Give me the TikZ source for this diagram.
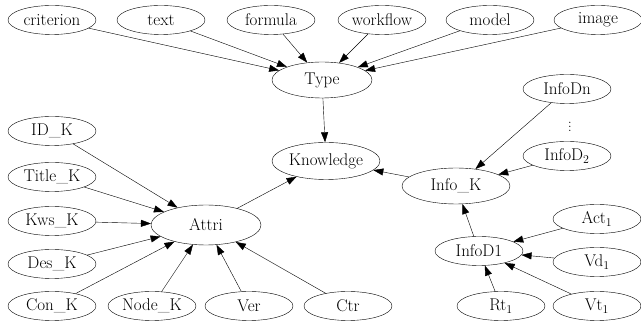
\documentclass[tikz,border=0pt]{standalone}
\usetikzlibrary{arrows.meta,shapes.geometric}
\tikzset{>={Triangle[length=10pt,width=7pt]},line width=.9pt,
  every node/.style={font=\fontsize{17}{19}\selectfont},
  leaf/.style={draw,ellipse,inner sep=0pt,minimum width=88pt,minimum height=29pt},
  hub/.style={leaf,minimum width=108pt,minimum height=37pt},
  link/.style={->}}

\begin{document}
\begin{tikzpicture}[x=1pt,y=-1pt]
\useasboundingbox (0,0) rectangle (641,328);
% kinds of knowledge along the top
\foreach \n/\x in {criterion/52,text/161,formula/271,workflow/382,model/490,image/598}{
\node[leaf] (\n) at (\x,20) {\n};}
\node[hub,minimum width=100pt,minimum height=36pt] (type) at (322,80) {Type};
\node[hub] (knowledge) at (326,161) {Knowledge};
\node[hub,minimum width=110pt,minimum height=40pt] (attri) at (206,225) {Attri};
\node[hub,minimum height=36pt] (infoK) at (456,186) {Info\_K};
% attributes
\foreach \n/\t/\x/\y in {idK/ID\_K/52/131,titleK/Title\_K/52/177,kwsK/Kws\_K/52/221,
  desK/Des\_K/52/264,conK/Con\_K/52/306,nodeK/Node\_K/152/306,ver/Ver/249/306,ctr/Ctr/348/306}{
\node[leaf] (\n) at (\x,\y) {\t};}
% info details
\node[leaf] (infoDn) at (567,89) {InfoDn};
\node[inner sep=0pt,font=\fontsize{13}{13}\selectfont] (dots) at (570,124) {$\vdots$};
\node[leaf] (infoD2) at (567,156) {InfoD\textsubscript{2}};
\node[leaf] (infoD1) at (479,251) {InfoD1};
\node[leaf] (act) at (597,219) {Act\textsubscript{1}};
\node[leaf] (vd) at (597,262) {Vd\textsubscript{1}};
\node[leaf] (vt) at (597,306) {Vt\textsubscript{1}};
\node[leaf] (rt) at (501,306) {Rt\textsubscript{1}};
\foreach \a/\b in {criterion/type,text/type,formula/type,workflow/type,model/type,image/type,
  type/knowledge,attri/knowledge,infoK/knowledge,
  idK/attri,titleK/attri,kwsK/attri,desK/attri,conK/attri,nodeK/attri,ver/attri,ctr/attri,
  infoDn/infoK,infoD2/infoK,infoD1/infoK,act/infoD1,vd/infoD1,vt/infoD1,rt/infoD1}{
\draw[link] (\a) -- (\b);}
\end{tikzpicture}
\end{document}
